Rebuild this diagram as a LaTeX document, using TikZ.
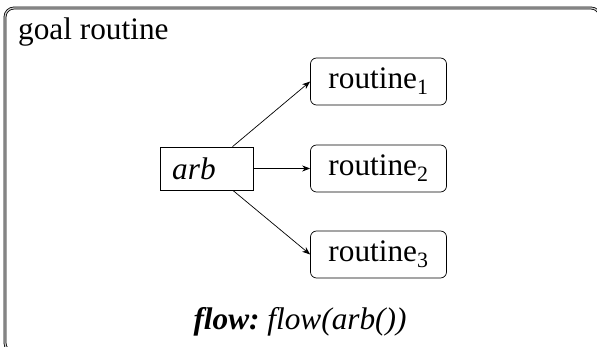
\documentclass[tikz,border=0pt]{standalone}
\usepackage{fontspec}
\setmainfont{Liberation Serif}
\usetikzlibrary{arrows.meta}
\begin{document}
\begin{tikzpicture}[x=1pt,y=-1pt,
  every node/.style={font=\fontsize{31.3}{37}\selectfont},
  routbox/.style={draw,rounded corners=6pt,minimum width=136pt,minimum height=47pt,inner sep=0pt,line width=0.7pt},
  arbbox/.style={draw,minimum width=93pt,minimum height=43pt,inner sep=0pt,line width=0.7pt},
  conn/.style={-{Stealth[length=8pt,width=6pt,inset=2.5pt]},line width=0.7pt}]
\useasboundingbox (0,0) rectangle (597,347);
\draw[double=gray!40,line width=0.8pt,double distance=1.2pt,rounded corners=9pt] (5,8) rectangle (600,352);
\node[anchor=base west,inner sep=0pt] (title) at (18,40) {goal routine};
\node[arbbox] (arb) at (206.5,168.5) {};
\node[anchor=west,inner sep=0pt] (arbt) at (172,168.5) {\itshape arb};
\node[routbox] (r1) at (378.5,81.5) {routine\textsubscript{1}};
\node[routbox] (r2) at (378.5,168.5) {routine\textsubscript{2}};
\node[routbox] (r3) at (378.5,254.5) {routine\textsubscript{3}};
\draw[conn] (arb) -- (r1.west);
\draw[conn] (arb) -- (r2.west);
\draw[conn] (arb) -- (r3.west);
\node[anchor=base,inner sep=0pt] (flow) at (300,330) {\itshape\bfseries flow:\ \mdseries flow(arb())};
\end{tikzpicture}
\end{document}
